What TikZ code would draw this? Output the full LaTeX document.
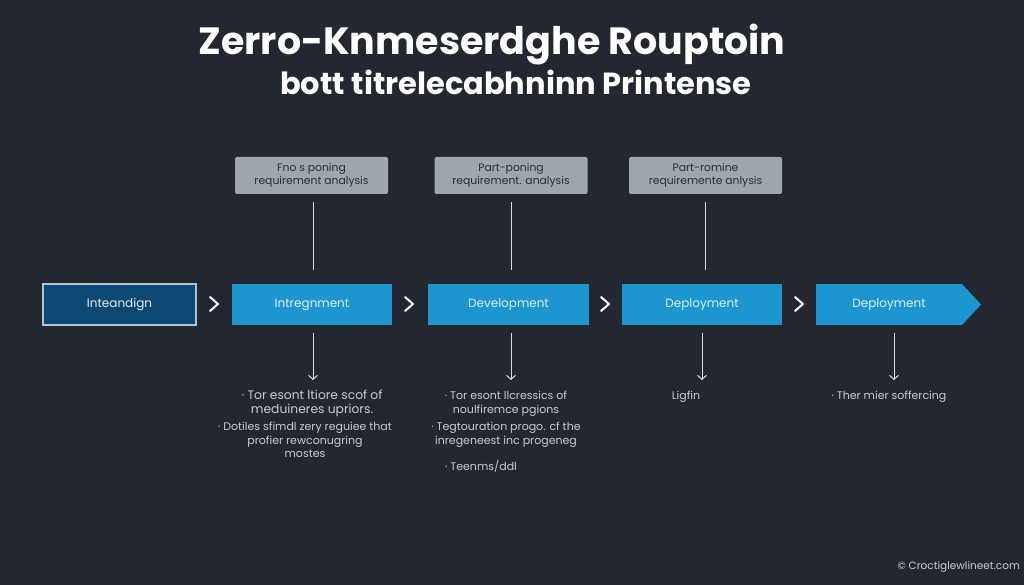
\documentclass[tikz,border=0pt]{standalone}
\usepackage{fontspec}
\setmainfont{Poppins}
\usetikzlibrary{arrows.meta,shapes.symbols}
\definecolor{bg}{RGB}{35,39,47}
\definecolor{topfill}{RGB}{160,166,173}
\definecolor{toptext}{RGB}{40,44,52}
\definecolor{procblue}{RGB}{29,149,206}
\definecolor{procdark}{RGB}{13,72,114}
\definecolor{procborder}{RGB}{176,196,212}
\definecolor{proctext}{RGB}{222,238,248}
\definecolor{bodytext}{RGB}{200,204,210}
\definecolor{linecol}{RGB}{215,218,224}
\tikzset{
  topbox/.style={draw=none,fill=topfill,rounded corners=2pt,minimum width=153pt,minimum height=37pt,align=center,text=toptext,font=\fontsize{10.8}{12.5}\selectfont,inner sep=0pt},
  procbox/.style={fill=procblue,minimum height=41pt,text=proctext,font=\fontsize{12}{14}\selectfont,inner sep=0pt},
  startbox/.style={fill=procdark,draw=procborder,line width=1.2pt,minimum width=153pt,minimum height=41pt,text=proctext,font=\fontsize{12}{14}\selectfont,inner sep=0pt},
  chev/.style={draw=white,line width=2pt,line cap=round,line join=round},
  vline/.style={draw=linecol,line width=1pt},
  downarrow/.style={draw=linecol,line width=1pt,-{Straight Barb[length=4pt,width=9pt]}},
  bodytxt/.style={text=bodytext,align=center,font=\fontsize{11}{13.5}\selectfont,inner sep=0pt},
}
\begin{document}
\begin{tikzpicture}[x=1pt,y=-1pt]
\fill[bg] (0,0) rectangle (1024,585);
\useasboundingbox (0,0) rectangle (1024,585);

% titles
\node[text=white,font=\fontsize{38}{40}\selectfont\bfseries] (title) at (492,45) {Zerro-Knmeserdghe Rouptoin};
\node[text=white,font=\fontsize{30.5}{33}\selectfont\bfseries] (subtitle) at (516,82) {bott titrelecabhninn Printense};

% top boxes
\node[topbox] (t1) at (311.5,175.5) {Fno s poning\\requirement analysis};
\node[topbox] (t2) at (511,175.5) {Part-poning\\requirement. analysis};
\node[topbox] (t3) at (705.5,175.5) {Part-romine\\requiremente anlysis};

% process boxes
\node[startbox] (p0) at (119.5,304.5) {Inteandign};
\node[procbox,minimum width=160pt] (p1) at (312,304.5) {Intregnment};
\node[procbox,minimum width=161pt] (p2) at (508.5,304.5) {Development};
\node[procbox,minimum width=160pt] (p3) at (702,304.5) {Deployment};
\node[procbox,shape=signal,signal to=east,signal pointer angle=94,minimum width=165pt] (p4) at (889,304.5) {Deployment};

% chevrons
\coordinate (c1) at (214,304);
\coordinate (c2) at (409,304);
\coordinate (c3) at (605,304);
\coordinate (c4) at (799,304);
\foreach \c in {c1,c2,c3,c4}{
  \draw[chev] ([shift={(-4,-7)}]\c) -- ([shift={(4,0)}]\c) -- ([shift={(-4,7)}]\c);
}

% vertical connectors
\draw[vline] ([xshift=1.5pt]t1.south) ++(0,8) coordinate (v1a) -- ([xshift=1pt]p1.north |- 0,270) coordinate (v1b);
\draw[vline] (t2.south) ++(0,8) coordinate (v2a) -- (t2.south |- 0,270) coordinate (v2b);
\draw[vline] (t3.south) ++(0,8) coordinate (v3a) -- (t3.south |- 0,270) coordinate (v3b);

% down arrows
\coordinate (a1) at (313,380);
\coordinate (a2) at (511,380);
\coordinate (a3) at (702,380);
\coordinate (a4) at (894,380);
\draw[downarrow] (a1 |- p1.south) ++(0,8) -- (a1);
\draw[downarrow] (a2 |- p2.south) ++(0,8) -- (a2);
\draw[downarrow] (a3 |- p3.south) ++(0,8) -- (a3);
\draw[downarrow] (a4 |- p4.south) ++(0,8) -- (a4);

% bullet texts
\node[bodytxt,anchor=north,font=\fontsize{12.3}{13.5}\selectfont] (b1a) at (312,390) {· Tor esont ltiore scof of\\meduineres upriors.};
\node[bodytxt,anchor=north] (b1b) at (305,422) {· Dotiles sfimdl zery reguiee that\\profier rewconugring\\mostes};
\node[bodytxt,anchor=north] (b2a) at (506,391) {· Tor esont llcressics of\\noulfiremce pgions};
\node[bodytxt,anchor=north] (b2b) at (506,422) {· Tegtouration progo. cf the\\inregeneest inc progeneg};
\node[bodytxt,anchor=north] (b2c) at (481,460) {· Teenms/ddl};
\node[bodytxt,anchor=north] (b3) at (686,391) {Ligfin};
\node[bodytxt,anchor=north] (b4) at (889,391) {· Ther mier soffercing};

% footer
\node[text=bodytext,font=\fontsize{10.5}{12}\selectfont,anchor=east,inner sep=0pt] (foot) at (1020,567) {© Croctiglewlineet.com};
\end{tikzpicture}
\end{document}
